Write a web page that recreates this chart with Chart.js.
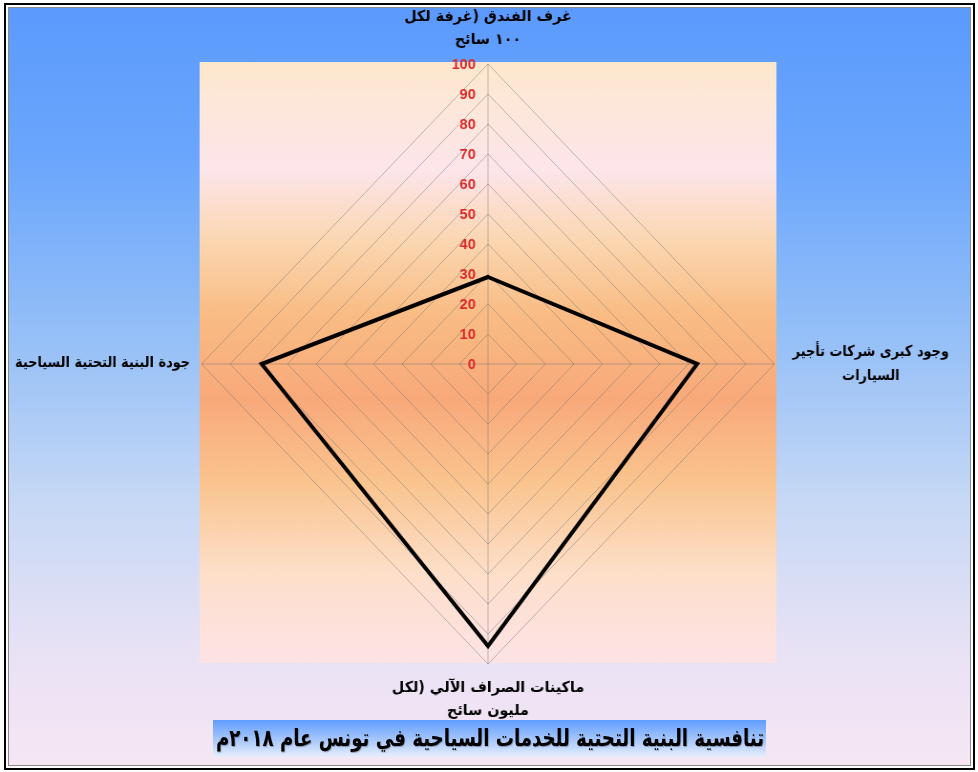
<!DOCTYPE html>
<html lang="ar">
<head>
<meta charset="utf-8">
<script src="https://cdn.jsdelivr.net/npm/chart.js@4.4.1/dist/chart.umd.min.js"></script>
<style>
  html, body { margin: 0; padding: 0; background: #fff; }
  body { width: 978px; height: 772px; position: relative; overflow: hidden; }
  #frame {
    position: absolute; left: 4px; top: 3px; width: 971px; height: 767px;
    box-sizing: border-box; border: 2px solid #000;
    background: linear-gradient(to bottom, #5b9afd 0%, #6aa6fc 20%, #98c1f7 45%, #c6d8f5 65%, #e9e2f5 85%, #f6e6f3 100%);
    box-shadow: inset 0 0 0 2px #fff, inset 0 0 0 3px #8a8a8a;
  }
  /* the radar is laid out on a wider canvas and narrowed to the page width */
  #stretch {
    position: absolute; left: 0; top: 0; width: 1024px; height: 772px;
    transform: scaleX(0.955); transform-origin: 0 0;
  }
  #stretch canvas { display: block; }
  #title {
    position: absolute; left: 213px; top: 720px; width: 553px; height: 37px;
    background: linear-gradient(to bottom, #5f9dff 0%, #a9c8fb 55%, #e6eefc 100%);
  }
  #title span {
    position: absolute; left: 50%; top: 0;
    white-space: nowrap;
    font: bold 24px "DejaVu Sans", sans-serif; line-height: 37px; color: #000;
    text-shadow: 1px 1px 1px rgba(0,0,0,0.3);
    transform: translateX(-50%);
  }
</style>
</head>
<body>
<div id="frame"></div>
<div id="stretch"><canvas id="radar"></canvas></div>
<div id="title"><span dir="rtl">تنافسية البنية التحتية للخدمات السياحية في تونس عام ٢٠١٨م</span></div>
<script>
// axes of the radar, clockwise from the top
const categories = [
  ['غرف الفندق (غرفة لكل', '١٠٠ سائح'],
  ['وجود كبرى شركات تأجير', 'السيارات'],
  ['ماكينات الصراف الآلي (لكل', 'مليون سائح'],
  ['جودة البنية التحتية السياحية']
];
// Tunisia 2018 scores on each axis
const seriesValues = [29, 73, 94, 79];
// radial axis labels
const tickLabels = ['0', '10', '20', '30', '40', '50', '60', '70', '80', '90', '100'];
const rMin = 0, rMax = 100, rStep = 10;

const labelFont = 'bold 15px "DejaVu Sans", sans-serif';
const tickFont = 'bold 15px "Liberation Sans", Arial, sans-serif';

// narrow the title so it fits its banner
(function fitTitle() {
  const span = document.querySelector('#title span');
  const w = span.getBoundingClientRect().width;
  const target = 548;
  const k = w > target ? target / w : 1;
  span.style.transform = 'translateX(-50%) scaleX(' + k.toFixed(4) + ')';
})();

// warm gradient square behind the web
const plotBackground = {
  id: 'plotBackground',
  beforeDraw(chart) {
    const r = chart.scales.r, ctx = chart.ctx;
    const x0 = r.xCenter - r.drawingArea - 2, x1 = r.xCenter + r.drawingArea + 2;
    const y0 = r.yCenter - r.drawingArea - 2, y1 = r.yCenter + r.drawingArea - 1;
    const g = ctx.createLinearGradient(0, y0, 0, y1);
    g.addColorStop(0.00, '#fde8cd');
    g.addColorStop(0.18, '#fde5ea');
    g.addColorStop(0.30, '#fbd6b0');
    g.addColorStop(0.42, '#f9bc84');
    g.addColorStop(0.56, '#f8a97a');
    g.addColorStop(0.70, '#fac48f');
    g.addColorStop(0.85, '#fddfc9');
    g.addColorStop(1.00, '#fde3e6');
    ctx.save();
    ctx.fillStyle = g;
    ctx.fillRect(x0, y0, x1 - x0, y1 - y0);
    ctx.restore();
  }
};

// red value labels just left of the vertical axis
const radialTicks = {
  id: 'radialTicks',
  beforeDatasetsDraw(chart) {
    const r = chart.scales.r, ctx = chart.ctx;
    ctx.save();
    ctx.font = tickFont;
    ctx.fillStyle = '#dd2a2a';
    ctx.textAlign = 'right';
    ctx.textBaseline = 'middle';
    r.ticks.forEach((t, i) => {
      const y = r.yCenter - r.getDistanceFromCenterForValue(t.value);
      ctx.fillText(tickLabels[i] ?? String(t.value), r.xCenter - 13, y + 1);
    });
    ctx.restore();
  }
};

// axis titles, each block centred on its own lines
const axisTitles = {
  id: 'axisTitles',
  afterDraw(chart) {
    const r = chart.scales.r, ctx = chart.ctx;
    const lh = 23;
    ctx.save();
    ctx.font = labelFont;
    ctx.fillStyle = '#000';
    ctx.textBaseline = 'middle';
    ctx.textAlign = 'center';
    chart.data.labels.forEach((lines, i) => {
      const n = lines.length;
      const side = (i === 1 || i === 3);
      const sx = side ? 0.9 : 1;
      const maxW = Math.max(...lines.map(s => ctx.measureText(s).width)) * sx;
      let cx, ys;
      if (i === 0) {
        cx = r.xCenter;
        ys = lines.map((_, k) => r.yCenter - r.drawingArea - 24 - (n - 1 - k) * lh);
      } else if (i === 2) {
        cx = r.xCenter;
        ys = lines.map((_, k) => r.yCenter + r.drawingArea + 24 + k * lh);
      } else if (i === 1) {
        cx = r.xCenter + r.drawingArea + 19 + maxW / 2;
        ys = lines.map((_, k) => r.yCenter + (k - (n - 1) / 2) * 24);
      } else {
        cx = r.xCenter - r.drawingArea - 12 - maxW / 2;
        ys = lines.map((_, k) => r.yCenter - 1 + (k - (n - 1) / 2) * 24);
      }
      lines.forEach((s, k) => {
        ctx.save();
        ctx.translate(cx, ys[k]);
        ctx.scale(sx, 1);
        ctx.fillText(s, 0, 0);
        ctx.restore();
      });
    });
    ctx.restore();
  }
};

new Chart(document.getElementById('radar'), {
  type: 'radar',
  data: {
    labels: categories,
    datasets: [{
      data: seriesValues,
      borderColor: '#000',
      borderWidth: 4,
      borderJoinStyle: 'miter',
      pointRadius: 0,
      fill: false,
      tension: 0
    }]
  },
  options: {
    responsive: true,
    maintainAspectRatio: false,
    animation: false,
    layout: { padding: { top: 64, bottom: 108, left: 11, right: 13 } },
    plugins: { legend: { display: false }, tooltip: { enabled: false } },
    scales: {
      r: {
        min: rMin,
        max: rMax,
        ticks: { stepSize: rStep, display: false },
        pointLabels: { display: false },
        grid: { color: 'rgba(105,105,105,0.42)', lineWidth: 1 },
        angleLines: { color: 'rgba(105,105,105,0.42)', lineWidth: 1 }
      }
    }
  },
  plugins: [plotBackground, radialTicks, axisTitles]
});
</script>
</body>
</html>
